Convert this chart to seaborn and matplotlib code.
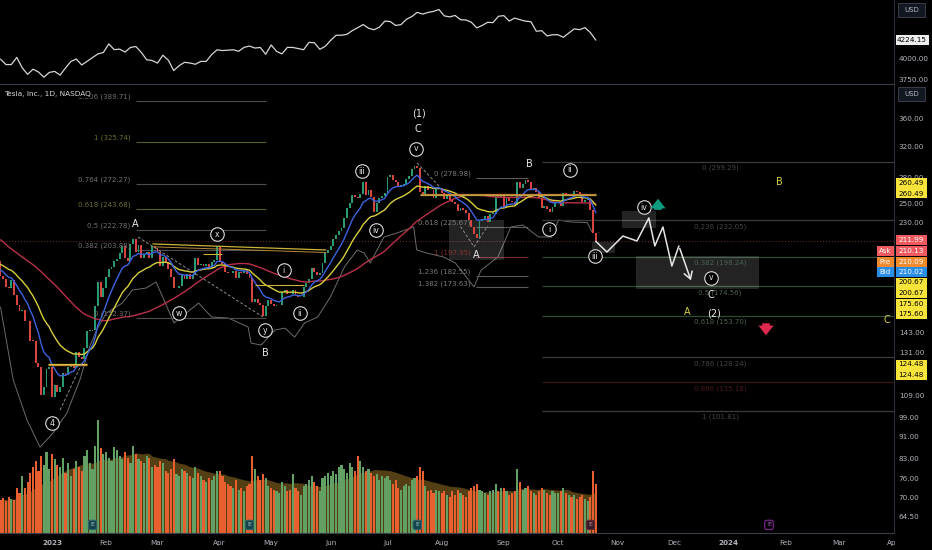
import numpy as np
import pandas as pd
import matplotlib
matplotlib.use("Agg")
import matplotlib.pyplot as plt
import matplotlib.transforms as mtransforms
from matplotlib.patches import Rectangle
import seaborn as sns

sns.set_style("dark", {"axes.facecolor": "black", "figure.facecolor": "black"})
plt.rcParams['font.family'] = ['DejaVu Sans']

# ---------------- data ----------------
# TSLA closes before the visible window (Sep 23 - Dec 2 2022), only feed the moving averages
close_prior = [275.33, 276.01, 282.94, 287.81, 268.21, 265.25,
               242.40, 249.44, 240.81, 238.13, 223.07, 222.96, 216.50, 217.24, 221.72, 204.99, 219.35,
               220.19, 222.04, 207.28, 214.44, 211.25, 222.42, 224.64, 225.09, 228.52, 227.54,
               227.82, 214.98, 215.31, 207.47, 197.08, 191.30, 177.59, 190.72, 195.97, 190.95, 194.42,
               186.92, 183.17, 180.19, 167.87, 169.91, 183.20, 182.86, 182.92, 180.83, 194.70,
               194.70, 194.86]

# visible daily closes, Dec 5 2022 .. Oct 20 2023 (bar 0 = Jan 3 2023)
close_dec = [182.45, 179.82, 174.04, 173.44, 179.05, 167.82, 160.95, 156.80, 157.67, 150.23,
             149.87, 137.80, 137.57, 125.35, 123.15, 109.10, 112.71, 121.82, 123.18]
close_jan = [108.10, 113.64, 110.34, 113.06, 119.77, 118.85, 123.22, 123.56, 122.40, 131.49,
             128.78, 127.17, 133.42, 143.75, 143.89, 144.43, 160.27, 177.90, 166.66, 173.22]
close_feb = [181.41, 188.27, 189.98, 194.76, 196.81, 201.29, 207.32, 196.89, 194.64, 209.25,
             214.24, 202.04, 208.31, 197.37, 200.86, 202.07, 196.88, 207.63, 205.71]
close_mar = [202.77, 190.90, 197.79, 193.81, 187.71, 182.00, 172.92, 173.44, 174.48, 183.26,
             180.45, 184.13, 180.13, 183.25, 197.58, 191.15, 192.22, 190.41, 191.81, 189.19,
             193.88, 195.28, 207.46]
close_apr = [194.77, 192.58, 185.52, 185.06, 184.51, 186.79, 180.54, 185.90, 185.00, 187.04,
             184.31, 180.59, 162.99, 165.08, 162.55, 160.67, 153.75, 160.19, 164.31]
close_may = [161.83, 160.31, 160.61, 161.20, 170.06, 171.79, 169.15, 168.54, 172.08, 167.98,
             166.35, 166.52, 173.86, 176.89, 180.14, 188.87, 185.77, 182.90, 184.47, 193.17,
             201.16, 203.93]
close_jun = [207.52, 213.97, 217.61, 221.31, 224.57, 234.86, 244.40, 249.83, 258.71, 256.79,
             255.90, 260.54, 274.45, 259.46, 264.61, 256.60, 241.05, 250.21, 256.24, 257.50, 261.77]
close_jul = [279.82, 282.48, 276.54, 274.43, 269.61, 269.79, 271.99, 277.90, 281.38, 290.38,
             293.34, 291.26, 262.90, 260.02, 269.06, 265.28, 264.35, 255.71, 266.44, 267.43]
close_aug = [261.07, 254.11, 259.32, 253.86, 251.45, 249.70, 242.19, 245.34, 242.65, 239.76,
             232.96, 225.60, 219.22, 215.49, 231.28, 233.19, 236.86, 230.04, 238.59, 238.82,
             257.18, 256.90, 258.08]
close_sep = [245.01, 256.49, 251.92, 251.49, 248.50, 273.58, 267.48, 271.30, 276.04, 274.39,
             265.28, 266.50, 262.59, 255.70, 244.88, 246.99, 244.12, 240.50, 246.38, 250.22]
close_oct = [251.60, 246.53, 261.16, 260.05, 260.53, 259.67, 263.62, 262.99, 258.87, 251.12,
             253.92, 254.85, 242.68, 220.11, 211.99]
tsla_close = (close_dec + close_jan + close_feb + close_mar + close_apr + close_may +
              close_jun + close_jul + close_aug + close_sep + close_oct)

# daily volume, millions (same bars)
volume_m = [88, 92, 85, 95, 90, 88, 120, 105, 150, 118, 135, 160, 175, 190, 165, 205, 180, 215, 170,
            210, 195, 180, 175, 200, 160, 185, 150, 170, 190, 175, 165, 205, 220, 185, 170, 230, 300, 225, 210,
            215, 200, 190, 228, 220, 205, 195, 215, 200, 185, 230, 210, 195, 190, 185, 205, 200, 175, 180,
            175, 190, 185, 165, 160, 170, 195, 155, 150, 170, 165, 160, 150, 145, 175, 160, 150, 140, 135,
            145, 140, 150, 165,
            165, 150, 135, 130, 125, 120, 140, 115, 120, 110, 125, 130, 205, 170, 150, 140, 155, 145, 125,
            120, 115, 110, 105, 135, 125, 110, 115, 155, 120, 110, 100, 125, 130, 140, 150, 135, 125, 110,
            145, 150, 160,
            150, 165, 155, 175, 180, 170, 160, 185, 175, 165, 205, 190, 175, 165, 170, 160, 150, 155, 140,
            150, 145,
            150, 140, 130, 140, 120, 115, 125, 130, 125, 140, 145, 150, 175, 165, 125, 110, 115, 105, 115, 110,
            105, 110, 100, 95, 110, 100, 115, 105, 100, 95, 110, 120, 125, 130, 115, 110, 105, 100, 110, 115,
            130, 110, 120,
            120, 110, 100, 105, 110, 170, 135, 115, 120, 125, 110, 105, 100, 110, 120, 115, 105, 100, 110, 105,
            105, 110, 120, 105, 100, 95, 100, 90, 95, 100, 90, 85, 95, 165, 130]

# S&P 500 in the top pane, every second bar from Dec 5 2022
spx_close = [3998, 3933, 3934, 4019, 3895, 3817, 3878, 3845, 3783, 3840,
             3852, 3808, 3892, 3970, 3999, 3929, 3972, 4017, 4060, 4077,
             4179, 4111, 4117, 4082, 4137, 4148, 4079, 3991, 3982,
             3951, 4045, 3986, 3862, 3920, 3960, 3952, 3937, 3971, 3971, 4051, 4109,
             4100, 4105, 4109, 4092, 4138, 4154, 4130, 4137, 4056,
             4167, 4091, 4061, 4138, 4137, 4124, 4110, 4198, 4192, 4115, 4151,
             4221, 4282, 4283, 4293, 4338, 4372, 4410, 4366, 4348, 4378, 4450,
             4446, 4399, 4409, 4472, 4505, 4555, 4534, 4554, 4566, 4589,
             4513, 4501, 4518, 4467, 4464, 4437, 4370, 4399, 4436, 4433, 4508,
             4516, 4451, 4487, 4467, 4450, 4444, 4330, 4337, 4274, 4288,
             4288, 4258, 4308, 4358, 4349, 4373, 4314, 4224]

# grey comparison line in the price pane
compare_bar = [-19.0, -14.3, -9.2, -4.4, 0.4, 5.5, 10.3, 13.9, 16.5, 20.1, 26.0, 29.7, 34.8, 38.5,
               45.1, 54.2, 59.0, 65.2, 72.5, 73.6, 77.3, 82.4, 86.1, 89.7, 93.4, 98.2, 102.9, 108.1,
               112.8, 115.4, 117.6, 122.7, 127.5, 133.7, 134.8, 138.5, 144.7, 149.1, 156.0, 158.6,
               164.8, 169.6, 174.0, 179.9, 184.6, 187.2, 191.9, 197.8, 199.6]
compare_val = [159.5, 116.3, 97.8, 87.0, 92.5, 100.8, 116.3, 134.2, 144.4, 155.4, 162.3, 171.7, 173.2,
               177.8, 148.9, 162.3, 152.8, 152.1, 146.3, 136.5, 135.3, 144.4, 145.6, 140.1, 148.9, 152.8,
               166.6, 189.7, 204.2, 201.5, 193.0, 216.0, 219.8, 225.6, 204.2, 201.5, 198.1, 193.0, 174.0,
               187.2, 198.1, 225.6, 227.5, 216.0, 216.0, 232.5, 230.5, 230.0, 220.7]

# projected path (wave iv / v)
path_bar = [201.0, 205.1, 211.0, 216.2, 220.6, 222.8, 225.8, 229.1, 231.7]
path_val = [211.99, 202.4, 216.9, 212.3, 234.5, 207.8, 225.6, 190.5, 207.8]
path_end = (236.5, 177.0)

# fibonacci retracements
fib_left_lv = ["1.236", "1", "0.764", "0.618", "0.5", "0.382", "0"]
fib_left_px = [389.71, 325.74, 272.27, 243.68, 222.78, 203.88, 152.37]
fib_mid_lv = ["0", "0.618", "1", "1.236", "1.382"]
fib_mid_px = [278.98, 225.67, 197.95, 182.55, 173.63]
fib_right_lv = ["0", "0.236", "0.382", "0.5", "0.618", "0.786", "0.886", "1"]
fib_right_px = [299.29, 232.05, 198.24, 174.56, 153.70, 128.24, 115.18, 101.81]

# axis ticks
price_ticks = [360, 320, 280, 250, 230, 143, 131, 109, 99, 91, 83, 76, 70, 64.5]
spx_ticks = [4000, 3750]
month_bar = [0, 20, 39, 62, 81, 103, 124, 144, 167, 187, 209, 230, 250, 271, 291, 311]
month_lbl = ['2023', 'Feb', 'Mar', 'Apr', 'May', 'Jun', 'Jul', 'Aug', 'Sep', 'Oct', 'Nov', 'Dec',
             '2024', 'Feb', 'Mar', 'Apr']
earnings_bar = [15, 73, 135, 199, 265]

# price tags on the right scale
tag_vals = [260.49, 260.49, 211.99, 210.13, 210.09, 210.02, 200.67, 200.67, 175.60, 175.60, 124.48, 124.48]
tag_side = {3: 'Ask', 4: 'Pre', 5: 'Bid'}

# ---------------- figure ----------------
W, H = 932, 550
fig = plt.figure(figsize=(W / 100, H / 100), dpi=100, facecolor='black')


def fx(px):
    return px / W


def fy(py):
    return 1 - py / H


TXT = '#b2b5be'
GRID = '#2a2e39'
XMIN, XMAX = -19.2, 311.2

ax_top = fig.add_axes([0, fy(84), fx(894), 84 / H])
ax_vol = fig.add_axes([0, fy(533), fx(894), 448 / H])
ax = fig.add_axes([0, fy(533), fx(894), 448 / H])
ax.set_facecolor('none')
ax_vol.set_facecolor('black')
ax_top.set_facecolor('black')

bars = np.arange(-19, -19 + len(tsla_close))

# ---- top pane: S&P 500 ----
spx_bar = np.arange(-19, -19 + 2 * len(spx_close), 2)
sns.lineplot(x=spx_bar, y=spx_close, ax=ax_top, color='#d6d6d6', linewidth=0.9)
ax_top.set_xlim(XMIN, XMAX)
ax_top.set_ylim(3702, 4702)
ax_top.set_xticks([])
ax_top.yaxis.tick_right()
ax_top.set_yticks(spx_ticks)
ax_top.set_yticklabels(['%.2f' % v for v in spx_ticks])

# ---- volume ----
s_all = pd.Series(close_prior + tsla_close, dtype=float)
opens = np.array([close_prior[-1]] + tsla_close[:-1])
closes = np.array(tsla_close)
up = closes >= opens
vol = pd.Series(volume_m, dtype=float)
vol_ma = vol.rolling(20, min_periods=1).mean()
ax_vol.fill_between(bars, 0, vol_ma, color='#5e4616', alpha=0.9, linewidth=0, zorder=1)
ax_vol.bar(bars, volume_m, width=0.8, color=np.where(up, '#62a064', '#e8602f'),
           linewidth=0, edgecolor='none', zorder=2)
ax_vol.set_xlim(XMIN, XMAX)
ax_vol.set_ylim(0, 1187)
ax_vol.set_xticks([])
ax_vol.set_yticks([])
etr = mtransforms.blended_transform_factory(ax_vol.transData, ax_vol.transAxes)
for k, e in enumerate(earnings_bar):
    if k < 3:
        fc, ec, tc = '#17434a', '#2b6a72', '#9fc9cc'
    elif k == 3:
        fc, ec, tc = '#3a1a26', '#6a2a3a', '#d08aa0'
    else:
        fc, ec, tc = 'black', '#9c27b0', '#c060d8'
    ax_vol.text(e, 0.018, 'E', transform=etr, ha='center', va='center', fontsize=4.6, color=tc,
                zorder=5, bbox=dict(boxstyle='round,pad=0.35', fc=fc, ec=ec, lw=0.7))

# ---- price pane ----
ax.set_yscale('log')
ema9 = s_all.ewm(span=9, adjust=False).mean().values[len(close_prior):]
ema21 = s_all.ewm(span=21, adjust=False).mean().values[len(close_prior):]
sma50 = s_all.rolling(50).mean().values[len(close_prior):]

body = np.maximum(np.abs(closes - opens), 0.6)
ax.bar(bars, body, bottom=np.minimum(opens, closes), width=0.7,
       color=np.where(up, '#2a9a72', '#d8453f'), linewidth=0, edgecolor='none', zorder=3)

sns.lineplot(x=compare_bar, y=compare_val, ax=ax, color='#6b6b6b', linewidth=0.7, zorder=2)
sns.lineplot(x=bars, y=sma50, ax=ax, color='#b8324a', linewidth=1.0, zorder=4)
sns.lineplot(x=bars, y=ema21, ax=ax, color='#d8cf3c', linewidth=1.0, zorder=4)
sns.lineplot(x=bars, y=ema9, ax=ax, color='#3d63e0', linewidth=1.0, zorder=4)

# current price dotted line
ax.axhline(tsla_close[-1], color='#7a2b2b', lw=0.7, ls=(0, (1, 2)), zorder=1)

# fib levels
for lv, p in zip(fib_left_lv, fib_left_px):
    olive = lv in ('1', '0.618')
    ax.hlines(p, 31.0, 79.1, colors='#5b5b2c' if olive else '#4d4d4d', lw=0.8, zorder=2)
    ax.annotate('%s (%.2f)' % (lv, p), (31.0, p), xytext=(-4, 3), textcoords='offset points',
                ha='right', va='center', fontsize=5, color='#6f6f30' if olive else '#707070', zorder=6)
for lv, p in zip(fib_mid_lv, fib_mid_px):
    red = lv == '1'
    ax.hlines(p, 156.7, 175.9, colors='#7a2d2d' if red else '#5a5a5a', lw=0.8, zorder=2)
    ax.annotate('%s (%.2f)' % (lv, p), (156.7, p), xytext=(-4, 3), textcoords='offset points',
                ha='right', va='center', fontsize=5, color='#8a3030' if red else '#7a7a7a', zorder=6)
for lv, p in zip(fib_right_lv, fib_right_px):
    if lv in ('0.382', '0.5', '0.618'):
        lc, tc = '#2c4f33', '#4a644d'
    elif lv == '0.886':
        lc, tc = '#3a1818', '#4a1818'
    else:
        lc, tc = '#3c3c3c', '#454545'
    ax.hlines(p, 181.1, XMAX, colors=lc, lw=0.9, zorder=2)
    ax.annotate('%s (%.2f)' % (lv, p), (246.9, p), xytext=(0, -4.5), textcoords='offset points',
                ha='center', va='center', fontsize=5, color=tc, zorder=6)

# drawn trend / level lines
ax.plot([37.3, 101.2], [209.6, 204.2], color='#c9b43a', lw=0.9, zorder=4)
ax.plot([37.3, 101.2], [207.0, 202.0], color='#b98a3a', lw=0.7, zorder=4)
ax.hlines([260.49, 259.0], 136, 201, colors=['#c97a35', '#b8a440'], lw=0.9, zorder=4)
ax.hlines([124.48, 124.0], -1.5, 12.9, colors=['#d8cc40', '#c98a35'], lw=0.9, zorder=4)
ax.hlines([200.67], 56, 63, colors=['#c9b43a'], lw=0.8, zorder=4)
ax.hlines([175.60], 75, 93, colors=['#c9b43a'], lw=0.8, zorder=4)

# dashed wave lines
dash = dict(color='#8c8c8c', lw=0.7, ls=(0, (3, 2)), zorder=5)
ax.plot([31.8, 78.0], [216.0, 152.8], **dash)
ax.plot([134.9, 143.4], [297.6, 268.2], **dash)
ax.plot([151.0, 156.0, 161.0], [226.0, 207.0, 226.5], **dash)
ax.plot([3.0, 11.1], [102.1, 125.2], **dash)

# grey zones
for x0, x1, p0, p1 in [(146.7, 166.7, 196.4, 232.5), (199.6, 207.7, 202.4, 211.2),
                       (210.6, 222.8, 225.6, 241.7), (215.8, 260.9, 173.2, 198.9)]:
    ax.add_patch(Rectangle((x0, p0), x1 - x0, p1 - p0, fc='#ffffff', alpha=0.14,
                           ec='#a0a0a0', lw=0.8, zorder=2))

# projected path
sns.lineplot(x=path_bar, y=path_val, ax=ax, color='#e6e6e6', linewidth=1.1, sort=False, zorder=7)
ax.annotate('', xy=path_end, xytext=(path_bar[-1], path_val[-1]),
            arrowprops=dict(arrowstyle='->,head_length=0.5,head_width=0.3', color='#e6e6e6', lw=1.1),
            zorder=7)

# wave labels
circled = [("iii", 114.6, 287.4), ("v", 134.5, 316.2), ("iv", 119.7, 222.6), ("x", 61.0, 218.8),
           ("i", 85.7, 187.2), ("w", 46.9, 155.4), ("ii", 91.6, 155.4), ("y", 78.7, 144.4),
           ("4", 0.0, 96.5), ("ii", 191.4, 288.7), ("i", 183.7, 223.6), ("iii", 200.7, 198.9),
           ("iv", 218.8, 245.9), ("v", 243.5, 180.9)]
for t, xb, p in circled:
    ax.scatter([xb], [p], s=95, facecolors='black', edgecolors='#dcdcdc', linewidths=0.8, zorder=8)
    ax.text(xb, p, t, ha='center', va='center', fontsize=5.6, color='#e8e8e8', zorder=9)
plain = [("(1)", 135.6, 367.9), ("C", 135.3, 344.7), ("A", 30.7, 228.5), ("B", 78.7, 130.8),
         ("B", 176.6, 296.3), ("A", 156.7, 199.8), ("C", 243.5, 168.0), ("(2)", 244.6, 155.4)]
for t, xb, p in plain:
    ax.text(xb, p, t, ha='center', va='center', fontsize=7, color='#e8e8e8', zorder=9)
for t, xb, p in [("A", 234.7, 156.1), ("B", 268.7, 274.1), ("C", 308.6, 150.8)]:
    ax.text(xb, p, t, ha='center', va='center', fontsize=7, color='#d4cf3a', zorder=9)

# direction arrows
ax.annotate('', xy=(224.0, 258.0), xytext=(224.0, 240.0),
            arrowprops=dict(arrowstyle='simple,head_width=1.1,head_length=0.7,tail_width=0.55',
                            color='#0f9b80', lw=0), zorder=9)
ax.annotate('', xy=(263.9, 139.5), xytext=(263.9, 150.5),
            arrowprops=dict(arrowstyle='simple,head_width=1.1,head_length=0.7,tail_width=0.55',
                            color='#e0294f', lw=0), zorder=9)

ax.set_xlim(XMIN, XMAX)
ax.set_ylim(60, 417)
ax.yaxis.tick_right()
ax.set_yticks(price_ticks)
ax.set_yticklabels(['%.2f' % v for v in price_ticks])
ax.yaxis.set_minor_locator(matplotlib.ticker.NullLocator())
ax.set_xticks(month_bar)
ax.set_xticklabels(month_lbl)
for lab in ax.get_xticklabels():
    if lab.get_text() in ('2023', '2024'):
        lab.set_fontweight('bold')
        lab.set_color('#d1d4dc')

for a in (ax_top, ax, ax_vol):
    a.set_xlabel('')
    a.set_ylabel('')
    for sp in a.spines.values():
        sp.set_visible(False)
    a.tick_params(axis='both', length=0, labelsize=5.2, colors=TXT, pad=3.5)
    a.grid(False)
ax.spines['right'].set_visible(True)
ax.spines['right'].set_color(GRID)
ax.spines['bottom'].set_visible(True)
ax.spines['bottom'].set_color('#3a3e48')
ax_top.spines['right'].set_visible(True)
ax_top.spines['right'].set_color(GRID)
ax_top.spines['bottom'].set_visible(True)
ax_top.spines['bottom'].set_color('#3a3e48')
ax.tick_params(axis='x', pad=5)

# ---- figure-level labels ----
fig.text(fx(4), fy(94), 'Tesla, Inc., 1D, NASDAQ', ha='left', va='center', fontsize=5.3,
         color='#d8d8d8', bbox=dict(fc='black', ec='none', pad=0.6), zorder=10)

for yp in (10, 94):
    fig.patches.append(Rectangle((fx(898), fy(yp + 6.5)), fx(27), 13 / H, transform=fig.transFigure,
                                 fc='#131722', ec='#434651', lw=0.6, zorder=10))
    fig.text(fx(911.5), fy(yp), 'USD', ha='center', va='center', fontsize=5, color=TXT, zorder=11)

fig.patches.append(Rectangle((fx(895.5), fy(45)), fx(33), 9.5 / H, transform=fig.transFigure,
                             fc='#eeeeee', ec='none', zorder=10))
fig.text(fx(912), fy(40.3), '4224.15', ha='center', va='center', fontsize=5.2, color='black', zorder=11)

tag_px = [183, 193.5, 240.5, 251, 261.5, 272, 282.5, 293, 303.5, 314, 364.5, 375]
tag_fc = ['#f7e43a', '#f7e43a', '#f05a5e', '#f05a5e', '#f08a2e', '#2a8de6',
          '#f7e43a', '#f7e43a', '#f7e43a', '#f7e43a', '#f7e43a', '#f7e43a']
for k, (v, yp) in enumerate(zip(tag_vals, tag_px)):
    fc = tag_fc[k]
    tc = 'black' if fc == '#f7e43a' else 'white'
    fig.patches.append(Rectangle((fx(895.5), fy(yp + 5)), fx(31.5), 10 / H, transform=fig.transFigure,
                                 fc=fc, ec='none', zorder=10))
    fig.text(fx(911.3), fy(yp), '%.2f' % v, ha='center', va='center', fontsize=5.2, color=tc, zorder=11)
    if k in tag_side:
        fig.patches.append(Rectangle((fx(877), fy(yp + 5)), fx(16.5), 10 / H, transform=fig.transFigure,
                                     fc=fc, ec='none', zorder=10))
        fig.text(fx(885.2), fy(yp), tag_side[k], ha='center', va='center', fontsize=5, color='white',
                 zorder=11)

# hide the cut-off month label under the price scale
fig.patches.append(Rectangle((fx(895), 0), fx(37), fy(534), transform=fig.transFigure,
                             fc='black', ec='none', zorder=10))

fig.savefig('out.png', dpi=100, facecolor='black')
